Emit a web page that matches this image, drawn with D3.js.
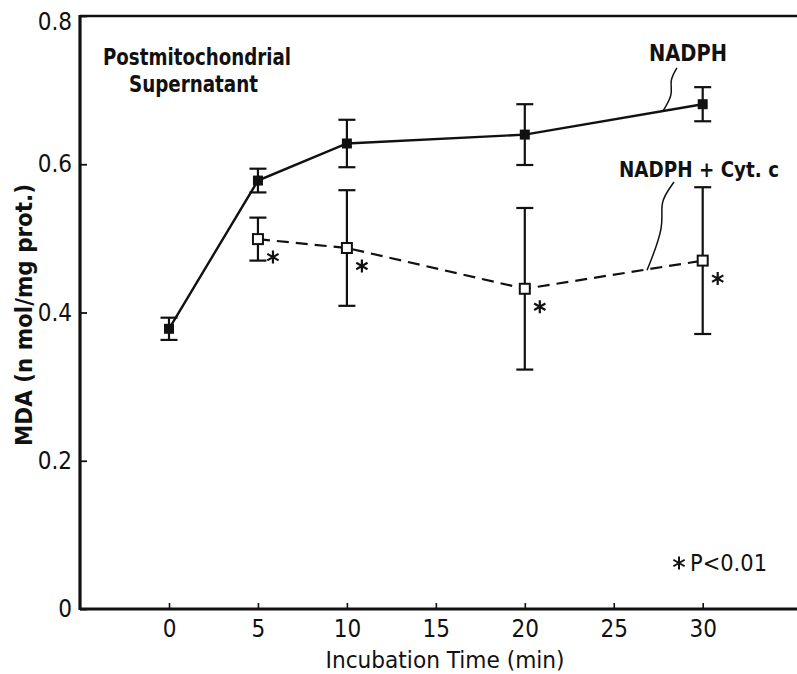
<!DOCTYPE html>
<html>
<head>
<meta charset="utf-8">
<script src="https://cdn.jsdelivr.net/npm/d3@7"></script>
<style>
  body { margin: 0; background: #fff; }
  text { font-family: 'Liberation Sans Narrow', 'DejaVu Sans Condensed', 'Liberation Sans', sans-serif; fill: #111; }
</style>
</head>
<body>
<svg id="chart" width="797" height="674"></svg>
<script>
// values
const minutes = [0, 5, 10, 20, 30];
const nadph = [0.378, 0.578, 0.628, 0.640, 0.681];
const nadphSd = [0.015, 0.016, 0.032, 0.041, 0.023];
const cytMinutes = [5, 10, 20, 30];
const cytC = [0.499, 0.487, 0.432, 0.470];
const cytSd = [0.029, 0.078, 0.109, 0.099];
const xTicks = [0, 5, 10, 15, 20, 25, 30];
const yTicks = [0, 0.2, 0.4, 0.6, 0.8];

const plotLeft = 80, plotRight = 797, plotTop = 16, plotBottom = 609;

const x = d3.scaleLinear().domain([0, 30]).range([169, 702.7]);
const y = d3.scaleLinear().domain([0, 0.8]).range([plotBottom, plotTop]);

const svg = d3.select('#chart');

// axes
const xAxis = svg.append('g')
    .attr('transform', `translate(0,${plotBottom})`)
    .call(d3.axisBottom(x).tickValues(xTicks).tickSizeInner(-6).tickSizeOuter(0).tickPadding(11).tickFormat(d3.format('d')));
xAxis.select('.domain').remove();
xAxis.selectAll('.tick line').attr('stroke', '#111').attr('stroke-width', 1.6);
xAxis.selectAll('.tick text').style('font-size', '24px');

const yAxis = svg.append('g')
    .attr('transform', `translate(${plotLeft},0)`)
    .call(d3.axisLeft(y).tickValues(yTicks).tickSizeInner(-7).tickSizeOuter(0).tickPadding(8)
        .tickFormat(d => d === 0 ? '0' : d3.format('.1f')(d)));
yAxis.select('.domain').remove();
yAxis.selectAll('.tick line').attr('stroke', '#111').attr('stroke-width', 1.8);
yAxis.selectAll('.tick text').style('font-size', '24px');
yAxis.selectAll('.tick').filter(d => d === 0.8).select('text').attr('dy', '0.55em');

// frame lines
svg.append('line').attr('x1', plotLeft).attr('x2', plotLeft).attr('y1', plotTop - 1).attr('y2', plotBottom + 1)
    .attr('stroke', '#111').attr('stroke-width', 3.2);
svg.append('line').attr('x1', plotLeft).attr('x2', plotRight).attr('y1', plotBottom).attr('y2', plotBottom)
    .attr('stroke', '#111').attr('stroke-width', 3.2);
svg.append('line').attr('x1', plotLeft).attr('x2', plotRight).attr('y1', plotTop).attr('y2', plotTop)
    .attr('stroke', '#111').attr('stroke-width', 2.6);

// axis titles
svg.append('text')
    .attr('x', 445).attr('y', 668)
    .attr('text-anchor', 'middle')
    .attr('textLength', 239).attr('lengthAdjust', 'spacingAndGlyphs')
    .style('font-size', '23px')
    .text('Incubation Time (min)');

svg.append('text')
    .attr('transform', 'translate(32,315) rotate(-90)')
    .attr('text-anchor', 'middle')
    .attr('textLength', 262).attr('lengthAdjust', 'spacingAndGlyphs')
    .style('font-size', '23px').style('font-weight', 'bold')
    .text('MDA  (n mol/mg prot.)');

// series
const line = d3.line().x(d => x(d[0])).y(d => y(d[1]));
const nadphPts = minutes.map((m, i) => [m, nadph[i], nadphSd[i]]);
const cytPts = cytMinutes.map((m, i) => [m, cytC[i], cytSd[i]]);

svg.append('path').datum(nadphPts).attr('d', line)
    .attr('fill', 'none').attr('stroke', '#111').attr('stroke-width', 2.4);
svg.append('path').datum(cytPts).attr('d', line)
    .attr('fill', 'none').attr('stroke', '#111').attr('stroke-width', 2.2)
    .attr('stroke-dasharray', '12,7');

function errorBars(pts) {
    const g = svg.append('g').attr('stroke', '#111').attr('stroke-width', 2.2);
    g.selectAll('line.v').data(pts).enter().append('line')
        .attr('x1', d => x(d[0])).attr('x2', d => x(d[0]))
        .attr('y1', d => y(d[1] - d[2])).attr('y2', d => y(d[1] + d[2]));
    [-1, 1].forEach(s => {
        g.selectAll(null).data(pts).enter().append('line')
            .attr('x1', d => x(d[0]) - 8.5).attr('x2', d => x(d[0]) + 8.5)
            .attr('y1', d => y(d[1] + s * d[2])).attr('y2', d => y(d[1] + s * d[2]));
    });
}
errorBars(nadphPts);
errorBars(cytPts);

svg.append('g').selectAll('rect').data(nadphPts).enter().append('rect')
    .attr('x', d => x(d[0]) - 5).attr('y', d => y(d[1]) - 5)
    .attr('width', 10).attr('height', 10).attr('fill', '#111');
svg.append('g').selectAll('rect').data(cytPts).enter().append('rect')
    .attr('x', d => x(d[0]) - 5).attr('y', d => y(d[1]) - 5)
    .attr('width', 10).attr('height', 10)
    .attr('fill', '#fff').attr('stroke', '#111').attr('stroke-width', 2);

// significance asterisks next to each NADPH + Cyt. c point
function asterisk(r) {
    let p = '';
    [90, 30, 150].forEach(a => {
        const t = a * Math.PI / 180;
        p += `M${-r * Math.cos(t)},${-r * Math.sin(t)}L${r * Math.cos(t)},${r * Math.sin(t)}`;
    });
    return p;
}
svg.append('g').selectAll('path').data(cytPts).enter().append('path')
    .attr('transform', d => `translate(${x(d[0]) + 15},${y(d[1]) + 18})`)
    .attr('d', asterisk(6.5))
    .attr('stroke', '#111').attr('stroke-width', 2.2).attr('fill', 'none');

// annotations
svg.append('text').attr('x', 197).attr('y', 65).attr('text-anchor', 'middle')
    .attr('textLength', 188).attr('lengthAdjust', 'spacingAndGlyphs')
    .style('font-size', '23px').style('font-weight', 'bold')
    .text('Postmitochondrial');
svg.append('text').attr('x', 193.5).attr('y', 92).attr('text-anchor', 'middle')
    .attr('textLength', 129).attr('lengthAdjust', 'spacingAndGlyphs')
    .style('font-size', '23px').style('font-weight', 'bold')
    .text('Supernatant');

svg.append('text').attr('x', 649).attr('y', 61)
    .attr('textLength', 78).attr('lengthAdjust', 'spacingAndGlyphs')
    .style('font-size', '23px').style('font-weight', 'bold')
    .text('NADPH');
svg.append('text').attr('x', 699).attr('y', 177).attr('text-anchor', 'middle')
    .attr('textLength', 160).attr('lengthAdjust', 'spacingAndGlyphs')
    .style('font-size', '21px').style('font-weight', 'bold')
    .text('NADPH + Cyt. c');

// leader lines (in data units)
const nadphLeader = [[28.55, 0.730], [28.12, 0.712], [28.35, 0.695], [27.77, 0.672]];
const cytLeader = [[28.39, 0.576], [27.54, 0.548], [27.88, 0.518], [26.87, 0.457]];
const leader = d3.line().x(d => x(d[0])).y(d => y(d[1])).curve(d3.curveBasis);
[nadphLeader, cytLeader].forEach(pts => {
    svg.append('path').datum(pts).attr('d', leader)
        .attr('fill', 'none').attr('stroke', '#111').attr('stroke-width', 1.5);
});

// p value note
svg.append('path').attr('transform', 'translate(679,563)').attr('d', asterisk(6.5))
    .attr('stroke', '#111').attr('stroke-width', 2).attr('fill', 'none');
svg.append('text').attr('x', 690).attr('y', 571)
    .attr('textLength', 77).attr('lengthAdjust', 'spacingAndGlyphs')
    .style('font-size', '23px')
    .text('P<0.01');
</script>
</body>
</html>
